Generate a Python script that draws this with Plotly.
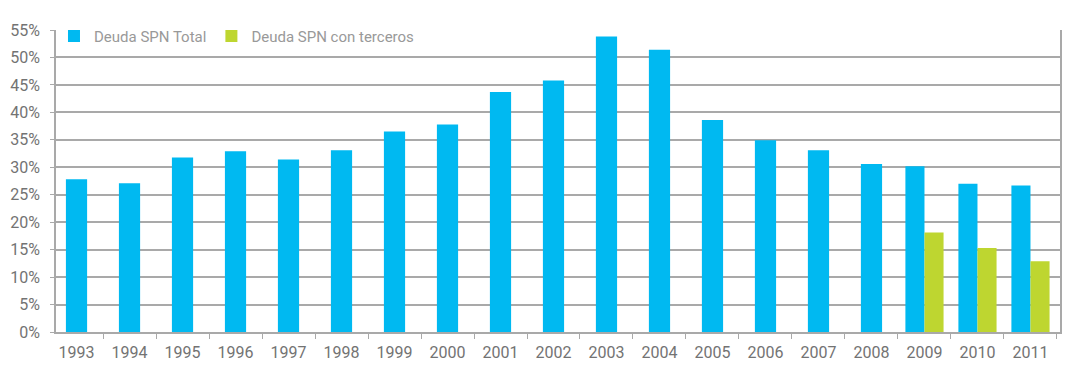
import plotly.graph_objects as go

years = ["1993", "1994", "1995", "1996", "1997", "1998", "1999", "2000", "2001", "2002",
         "2003", "2004", "2005", "2006", "2007", "2008", "2009", "2010", "2011"]
deuda_total = [27.8, 27.1, 31.8, 32.9, 31.4, 33.1, 36.5, 37.8, 43.7, 45.8,
               53.8, 51.4, 38.6, 34.9, 33.1, 30.6, 30.2, 27.0, 26.7]
deuda_terceros = [None] * 16 + [18.1, 15.3, 12.9]

BLUE = "#00b9f1"
GREEN = "#bed630"
GRID = "#a9a9a9"
FONT = "Roboto"

blue_width = [0.4 if g is None else 0.36 for g in deuda_terceros]
blue_offset = [-0.2 if g is None else -0.36 for g in deuda_terceros]

fig = go.Figure()
fig.add_trace(go.Bar(
    x=years, y=deuda_total, name="Deuda SPN Total",
    marker=dict(color=BLUE, line=dict(width=0)),
    width=blue_width, offset=blue_offset,
))
fig.add_trace(go.Bar(
    x=years, y=deuda_terceros, name="Deuda SPN con terceros",
    marker=dict(color=GREEN, line=dict(width=0)),
    width=0.36, offset=0,
))

fig.update_layout(
    width=1072, height=362,
    margin=dict(l=48, r=20, t=12, b=38),
    barmode="overlay",
    paper_bgcolor="white", plot_bgcolor="white",
    font=dict(family=FONT, size=16, color="#737373"),
    showlegend=True,
    legend=dict(
        orientation="h", x=-0.002, xanchor="left", y=1.034, yanchor="top",
        bgcolor="rgba(0,0,0,0)", font=dict(size=15, color="#999999"),
        traceorder="normal",
    ),
    xaxis=dict(
        type="category", range=[-0.387, 18.557],
        showline=True, linecolor=GRID, linewidth=1.5,
        ticks="outside", tickson="boundaries", ticklen=5, tickcolor=GRID,
        ticklabelstandoff=5, automargin=False,
        showgrid=False, fixedrange=True,
    ),
    yaxis=dict(
        range=[0, 55], tick0=0, dtick=5, ticksuffix="%", showticksuffix="all",
        showline=True, linecolor=GRID, linewidth=1.5, mirror=True,
        showgrid=True, gridcolor=GRID, gridwidth=1.5,
        ticks="outside", ticklen=4, tickcolor=GRID,
        ticklabelstandoff=7, automargin=False,
        zeroline=False, fixedrange=True,
    ),
)

fig.write_html("out.html")
